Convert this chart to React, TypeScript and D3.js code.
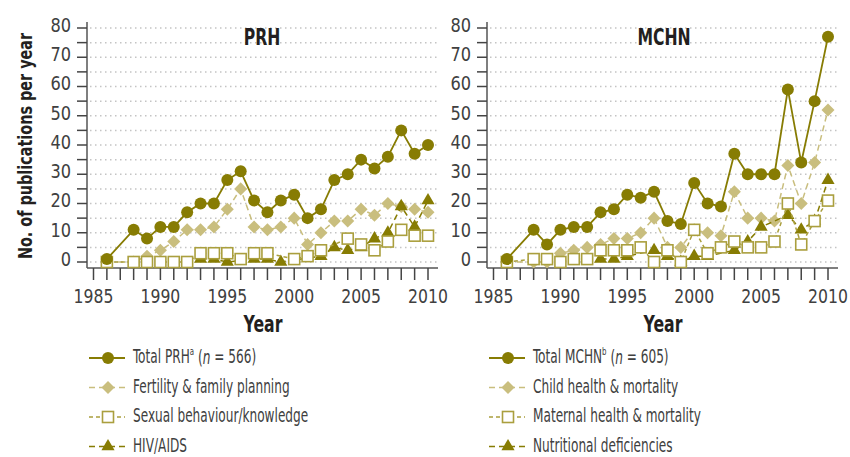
import React from 'react';
import * as d3 from 'd3';

// years on the x axis, 1987 has no data
const years = [1986, 1987, 1988, 1989, 1990, 1991, 1992, 1993, 1994, 1995, 1996, 1997, 1998,
  1999, 2000, 2001, 2002, 2003, 2004, 2005, 2006, 2007, 2008, 2009, 2010];

const totalPRH = [1, null, 11, 8, 12, 12, 17, 20, 20, 28, 31, 21, 17, 21, 23, 15, 18, 28, 30, 35, 32, 36, 45, 37, 40];
const fertility = [0, null, 0, 2, 4, 7, 11, 11, 12, 18, 25, 12, 11, 12, 15, 6, 10, 14, 14, 18, 16, 20, 19, 18, 17];
const sexual = [0, null, 0, 0, 0, 0, 0, 3, 3, 3, 1, 3, 3, null, 1, 2, 4, null, 8, 6, 4, 7, 11, 9, 9];
const hiv = [null, null, null, null, null, null, null, 1, 1, 0, null, 1, 1, 0, null, null, 2, 5, 4, 5, 8, 10, 19, 12, 21];

const totalMCHN = [1, null, 11, 6, 11, 12, 12, 17, 18, 23, 22, 24, 14, 13, 27, 20, 19, 37, 30, 30, 30, 59, 34, 55, 77];
const child = [0, null, 0, 0, 3, 4, 5, 6, 8, 8, 10, 15, 5, 5, 11, 10, 9, 24, 15, 15, 14, 33, 20, 34, 52];
const maternal = [0, null, 1, 1, 0, 1, 1, 4, 4, 4, 5, 0, 4, 0, 11, 3, 5, 7, 5, 5, 7, 20, 6, 14, 21];
const nutrition = [null, null, null, null, null, null, null, 1, 1, 2, null, 4, 2, 0, 2, 2, null, 4, 7, 12, null, 16, 11, 14, 28];

const yTicks = [0, 10, 20, 30, 40, 50, 60, 70, 80];
const xLabels = [1985, 1990, 1995, 2000, 2005, 2010];

const FONT = '"Liberation Sans Narrow", "DejaVu Sans Condensed", "Roboto", sans-serif';
const DARK = '#877c03';
const TAN = '#c9be7e';
const SQ = '#aa9f3e';
const INK = '#231f20';
const GREY = '#404040';

type Style = { kind: 'circle' | 'diamond' | 'square' | 'triangle'; color: string; dash?: string; width: number };

const styles: Style[] = [
  { kind: 'circle', color: DARK, width: 1.8 },
  { kind: 'diamond', color: TAN, dash: '6,4', width: 1.5 },
  { kind: 'square', color: SQ, dash: '4,3', width: 1.5 },
  { kind: 'triangle', color: DARK, dash: '6,4', width: 1.5 },
];

// squeezed text, the original uses a condensed face
const T = ({ x, y, sx, size, anchor = 'start', bold = false, fill = GREY, mid = false, children }: any) => (
  <text
    transform={`translate(${x},${y}) scale(${sx},1)`}
    textAnchor={anchor}
    dominantBaseline={mid ? 'middle' : undefined}
    fontSize={size}
    fontWeight={bold ? 'bold' : 'normal'}
    fill={fill}
    fontFamily={FONT}
  >
    {children}
  </text>
);

const Marker = ({ kind, color, x, y }: { kind: string; color: string; x: number; y: number }) => {
  if (kind === 'circle') return <circle cx={x} cy={y} r={6} fill={color} />;
  if (kind === 'diamond')
    return <path d={d3.symbol(d3.symbolSquare, 85)()!} transform={`translate(${x},${y}) rotate(45)`} fill={color} />;
  if (kind === 'square')
    return <rect x={x - 5.5} y={y - 5.5} width={11} height={11} fill="#fff" stroke={color} strokeWidth={1.6} />;
  return <path d={d3.symbol(d3.symbolTriangle, 75)()!} transform={`translate(${x},${y})`} fill={color} />;
};

const Panel = ({ dx, title, series, legend }: { dx: number; title: string; series: (number | null)[][]; legend: React.ReactNode[] }) => {
  const x = d3.scaleLinear().domain([1985, 2010]).range([93.5 + dx, 428 + dx]);
  const y = d3.scaleLinear().domain([0, 80]).range([262, 28]);
  const axisX = 87 + dx;
  const right = 438 + dx;
  const line = d3.line<[number, number]>().x(d => x(d[0])).y(d => y(d[1]));
  const minor = d3.range(0, 81, 5);
  const allYears = d3.range(1985, 2011);
  const order = [1, 3, 2, 0];

  return (
    <g>
      {minor.map(v => (
        <line key={'g' + v} x1={axisX + 3} x2={right} y1={y(v)} y2={y(v)} stroke="#c4c4c4" strokeWidth={1.5} strokeDasharray="1.5,3.5" />
      ))}
      <line x1={axisX} x2={axisX} y1={22} y2={268} stroke="#555" strokeWidth={1.5} />
      <line x1={axisX} x2={right} y1={268} y2={268} stroke="#555" strokeWidth={1.5} />
      {minor.map(v => (
        <line key={'t' + v} x1={axisX - 10} x2={axisX} y1={y(v)} y2={y(v)} stroke="#444" strokeWidth={1.5} />
      ))}
      {yTicks.map(v => (
        <T key={'l' + v} x={axisX - 16} y={y(v) - 2} sx={0.9} size={20} anchor="end" mid>{v}</T>
      ))}
      {allYears.map(yr => (
        <line key={'x' + yr} x1={x(yr)} x2={x(yr)} y1={268} y2={280} stroke="#444" strokeWidth={1.5} />
      ))}
      {xLabels.map(yr => (
        <T key={'xl' + yr} x={x(yr)} y={303} sx={0.87} size={20} anchor="middle">{yr}</T>
      ))}
      <T x={263 + dx} y={332} sx={0.76} size={23} anchor="middle" bold fill={INK}>Year</T>
      <T x={262 + dx + (title === 'MCHN' ? 2 : 0)} y={45} sx={0.74} size={23.5} anchor="middle" bold fill={INK}>{title}</T>
      {order.map(i => {
        const st = styles[i];
        const pts = years.map((yr, j) => [yr, series[i][j]] as [number, number | null])
          .filter(d => d[1] !== null) as [number, number][];
        return (
          <g key={'s' + i}>
            <path d={line(pts)!} fill="none" stroke={st.color} strokeWidth={st.width} strokeDasharray={st.dash} />
            {pts.map(p => <Marker key={p[0]} kind={st.kind} color={st.color} x={x(p[0])} y={y(p[1])} />)}
          </g>
        );
      })}
      {styles.map((st, i) => {
        const ly = 358 + i * 29.5;
        return (
          <g key={'lg' + i}>
            <line x1={89 + dx} x2={125 + dx} y1={ly} y2={ly} stroke={st.color} strokeWidth={st.width} strokeDasharray={st.dash} />
            <Marker kind={st.kind} color={st.color} x={108 + dx} y={ly} />
            <T x={133 + dx} y={ly} sx={0.71} size={19} mid>{legend[i]}</T>
          </g>
        );
      })}
    </g>
  );
};

export default function App() {
  return (
    <svg width={850} height={457} style={{ position: 'absolute', left: 0, top: 0, background: '#fff' }}>
      <g transform="translate(32,146) rotate(-90)">
        <T x={0} y={0} sx={0.8} size={20} anchor="middle" bold fill={INK}>No. of publications per year</T>
      </g>
      <Panel
        dx={0}
        title="PRH"
        series={[totalPRH, fertility, sexual, hiv]}
        legend={[
          <>Total PRH<tspan fontSize={11} dy={-6}>a</tspan><tspan dy={6}> (</tspan><tspan fontStyle="italic">n</tspan> = 566)</>,
          'Fertility & family planning',
          'Sexual behaviour/knowledge',
          'HIV/AIDS',
        ]}
      />
      <Panel
        dx={400}
        title="MCHN"
        series={[totalMCHN, child, maternal, nutrition]}
        legend={[
          <>Total MCHN<tspan fontSize={11} dy={-6}>b</tspan><tspan dy={6}> (</tspan><tspan fontStyle="italic">n</tspan> = 605)</>,
          'Child health & mortality',
          'Maternal health & mortality',
          'Nutritional deficiencies',
        ]}
      />
    </svg>
  );
}
